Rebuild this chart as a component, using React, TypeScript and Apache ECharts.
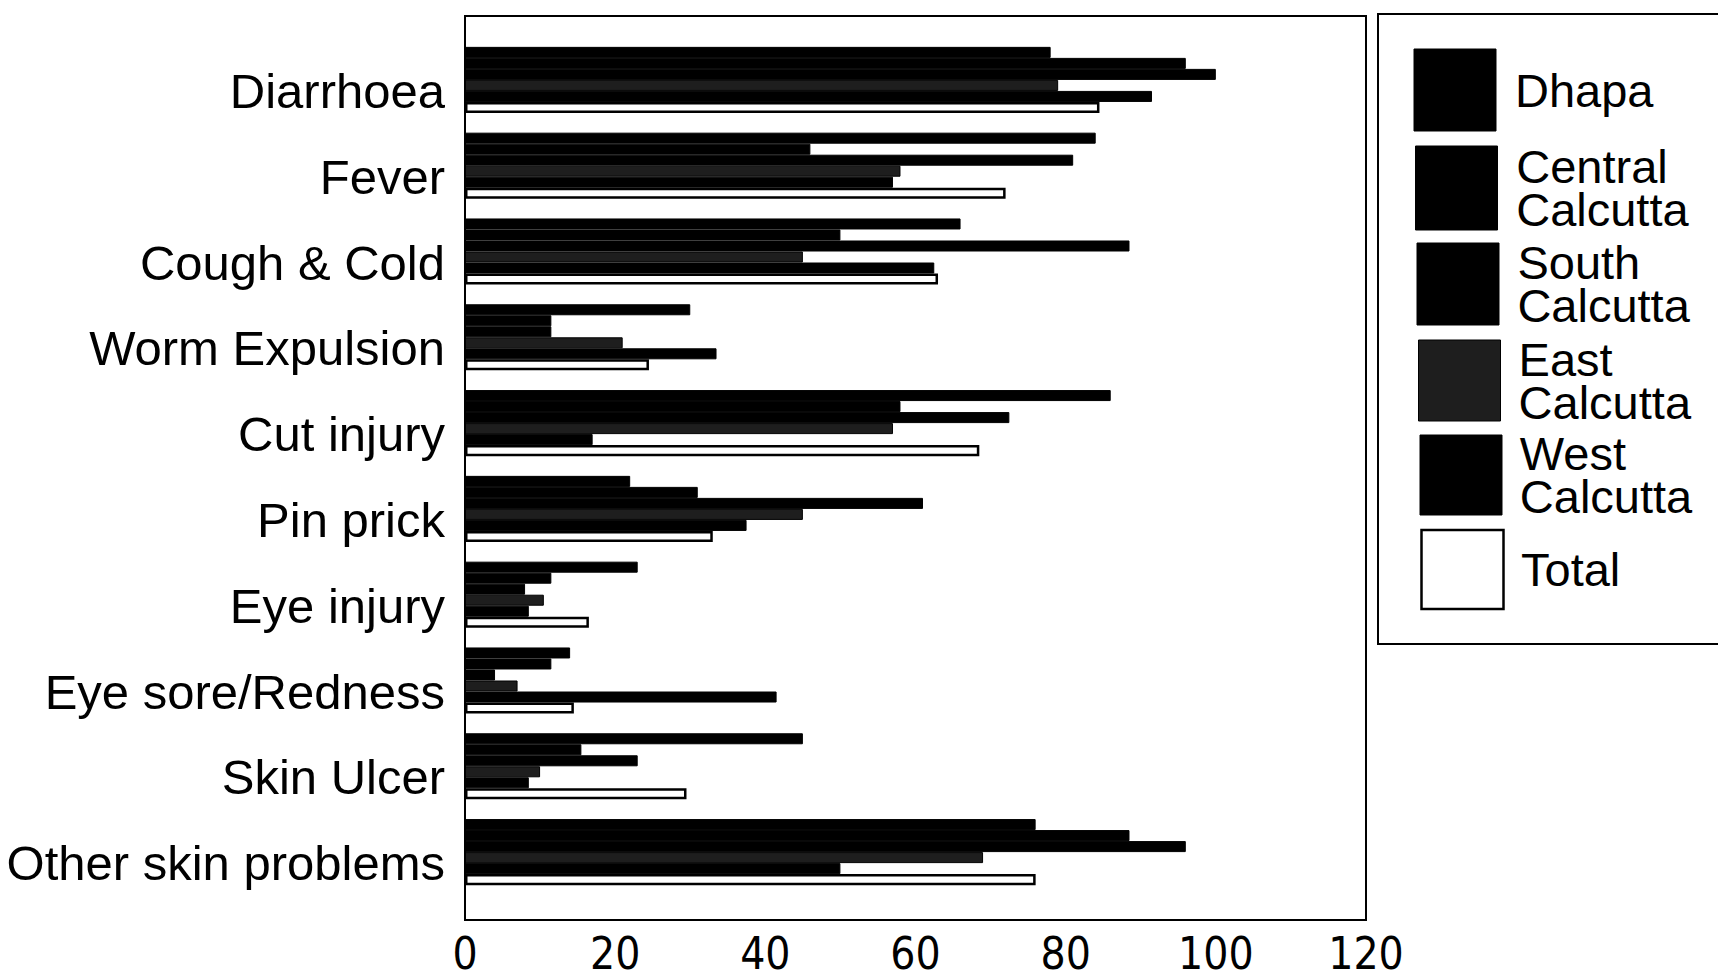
import React, { useEffect, useRef } from "react";
import * as echarts from "echarts";

const categories = [
  "Diarrhoea",
  "Fever",
  "Cough & Cold",
  "Worm Expulsion",
  "Cut injury",
  "Pin prick",
  "Eye injury",
  "Eye sore/Redness",
  "Skin Ulcer",
  "Other skin problems",
];
const seriesNames = ["Dhapa", "Central Calcutta", "South Calcutta", "East Calcutta", "West Calcutta", "Total"];
const dhapa = [78, 84, 66, 30, 86, 22, 23, 14, 45, 76];
const central = [96, 46, 50, 11.5, 58, 31, 11.5, 11.5, 15.5, 88.5];
const south = [100, 81, 88.5, 11.5, 72.5, 61, 8, 4, 23, 96];
const east = [79, 58, 45, 21, 57, 45, 10.5, 7, 10, 69];
const west = [91.5, 57, 62.5, 33.5, 17, 37.5, 8.5, 41.5, 8.5, 50];
const total = [84.5, 72, 63, 24.5, 68.5, 33, 16.5, 14.5, 29.5, 76];
const xTicks = { min: 0, max: 120, interval: 20 };

const legendLines = [["Dhapa"], ["Central", "Calcutta"], ["South", "Calcutta"], ["East", "Calcutta"], ["West", "Calcutta"], ["Total"]];

const FONT = "'Liberation Sans', Arial, Helvetica, sans-serif";
const NARROW = "'Liberation Sans Narrow', 'Arial Narrow', 'DejaVu Sans Condensed', 'Liberation Sans', sans-serif";

export default function App() {
  const ref = useRef<HTMLDivElement>(null);
  useEffect(() => {
    document.body.style.margin = "0";
    if (!ref.current) return;
    const chart = echarts.init(ref.current, undefined, { renderer: "svg" });
    const values = [dhapa, central, south, east, west, total];
    const series = values.map((data, i) => {
      const isTotal = i === 5;
      return {
        name: seriesNames[i],
        type: "bar",
        data,
        barGap: "0%",
        barCategoryGap: "23%",
        itemStyle: isTotal
          ? { color: "#ffffff", borderColor: "#000000", borderWidth: 2.5 }
          : { color: i === 3 ? "#1e1e1e" : "#000000", borderColor: "#000000", borderWidth: 1 },
      };
    });

    const swatchTops = [49, 146, 243, 340, 435, 530];
    const swatchH = [82, 84, 82, 81, 80, 79];
    const graphics: any[] = [
      {
        type: "rect",
        shape: { x: 1378, y: 14, width: 400, height: 630 },
        style: { fill: "#fff", stroke: "#000", lineWidth: 2 },
        z: 0,
      },
    ];
    legendLines.forEach((lines, i) => {
      const isTotal = i === 5;
      const sx = 1414 + i * 1.5;
      graphics.push({
        type: "rect",
        shape: { x: sx, y: swatchTops[i], width: 82, height: swatchH[i] },
        style: isTotal
          ? { fill: "#fff", stroke: "#000", lineWidth: 2.5 }
          : { fill: i === 3 ? "#1e1e1e" : "#000", stroke: "#000", lineWidth: 1 },
        z: 1,
      });
      const cy = swatchTops[i] + swatchH[i] / 2;
      graphics.push({
        type: "text",
        x: 1515 + i * 1.2,
        y: cy,
        style: {
          text: lines.join("\n"),
          font: `47px ${FONT}`,
          fill: "#000",
          lineHeight: 43,
          verticalAlign: "middle",
          align: "left",
        },
        z: 2,
      });
    });
    graphics.push({
      type: "rect",
      shape: { x: 465, y: 16, width: 901, height: 904 },
      style: { fill: "none", stroke: "#000", lineWidth: 2 },
      z: 10,
    });

    chart.setOption({
      animation: false,
      backgroundColor: "#ffffff",
      grid: { left: 465, right: 352, top: 37, bottom: 83, containLabel: false },
      xAxis: {
        type: "value",
        min: xTicks.min,
        max: xTicks.max,
        interval: xTicks.interval,
        splitLine: { show: false },
        axisLine: { show: false },
        axisTick: { show: false },
        axisLabel: {
          margin: 38,
          color: "#000",
          fontSize: 44,
          lineHeight: 40,
          fontFamily: NARROW,
        },
      },
      yAxis: {
        type: "category",
        inverse: true,
        data: categories,
        axisLine: { show: false },
        axisTick: { show: false },
        axisLabel: {
          color: "#000",
          fontSize: 49,
          fontFamily: FONT,
          margin: 20,
          verticalAlign: "top",
          lineHeight: 22,
        },
      },
      graphic: graphics,
      series,
    });
    return () => chart.dispose();
  }, []);
  return <div ref={ref} style={{ width: 1718, height: 978 }} />;
}
